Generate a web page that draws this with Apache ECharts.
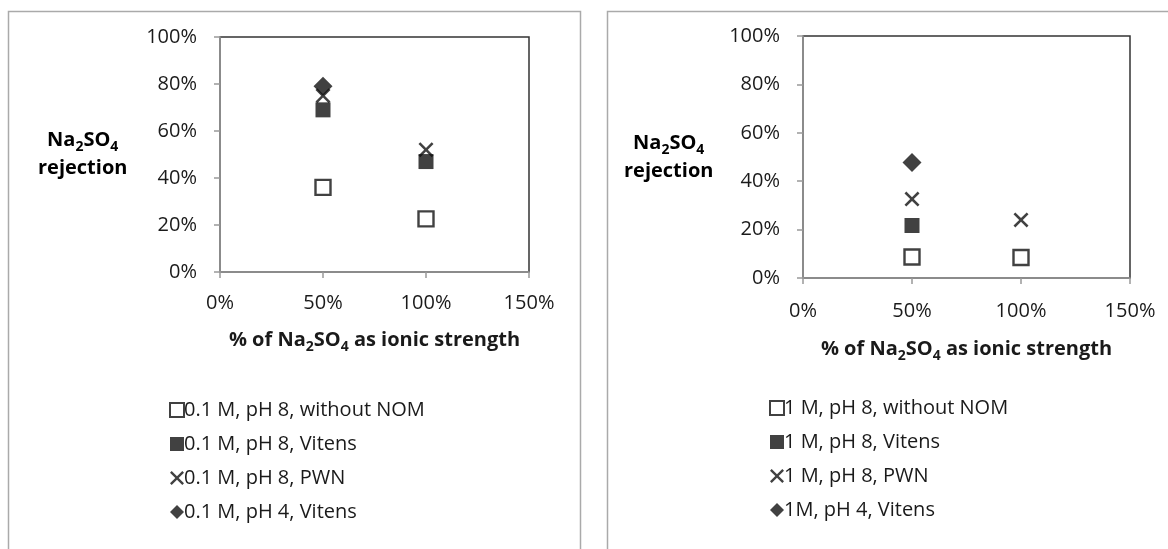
<!DOCTYPE html>
<html><head><meta charset="utf-8">
<script src="https://cdn.jsdelivr.net/npm/echarts@6/dist/echarts.min.js"></script>
<style>html,body{margin:0;padding:0;background:#fff}#c{width:1168px;height:549px}</style>
</head><body><div id="c"></div>
<script>
// ---- data ----
const xTicks = [0, 0.5, 1.0, 1.5];
const yTicks = [0, 0.2, 0.4, 0.6, 0.8, 1.0];
const leftNames = ['0.1 M, pH 8, without NOM', '0.1 M, pH 8, Vitens', '0.1 M, pH 8, PWN', '0.1 M, pH 4, Vitens'];
const rightNames = ['1 M, pH 8, without NOM', '1 M, pH 8, Vitens', '1 M, pH 8, PWN', '1M, pH 4, Vitens'];
const xValues = [0.5, 1.0];
const left_noNOM = [0.36, 0.226];
const left_vitens = [0.69, 0.47];
const left_pwn = [0.75, 0.52];
const left_pH4 = [0.79, null];
const right_noNOM = [0.087, 0.085];
const right_vitens = [0.217, null];
const right_pwn = [0.326, 0.24];
const right_pH4 = [0.477, null];

const FONT = 'Open Sans';
const TXT = '#1a1a1a';
const xPath = 'path://M0,1.2L1.2,0L5,3.8L8.8,0L10,1.2L6.2,5L10,8.8L8.8,10L5,6.2L1.2,10L0,8.8L3.8,5Z';
const styles = [
  {symbol: 'rect', symbolSize: 15, itemStyle: {color: '#fff', borderColor: '#111', borderWidth: 2.4}},
  {symbol: 'rect', symbolSize: 15, itemStyle: {color: '#111'}},
  {symbol: xPath, symbolSize: 15, itemStyle: {color: '#111'}},
  {symbol: 'diamond', symbolSize: 19, itemStyle: {color: '#111'}}
];
const leftData = [left_noNOM, left_vitens, left_pwn, left_pH4];
const rightData = [right_noNOM, right_vitens, right_pwn, right_pH4];

function pairs(vals) {
  return xValues.map((x, i) => vals[i] == null ? null : [x, vals[i]]).filter(p => p);
}
function pct(v) { return Math.round(v * 100) + '%'; }

const rich = {
  b: {fontFamily: FONT, fontWeight: 'bold', fontSize: 20, color: TXT},
  s: {fontFamily: FONT, fontWeight: 'bold', fontSize: 14, color: TXT, verticalAlign: 'bottom', padding: [14, 0, 0, 0]}
};
const xName = '{b|% of Na}{s|2}{b|SO}{s|4}{b| as ionic strength}';

function xAxis(gi, gap, margin) {
  return {
    type: 'value', gridIndex: gi, min: 0, max: 1.5, interval: 0.5,
    axisLine: {show: true, onZero: false, lineStyle: {color: '#999', width: 1.5}},
    axisTick: {show: true, length: 6, lineStyle: {color: '#999', width: 1.5}},
    splitLine: {show: false},
    axisLabel: {formatter: pct, fontFamily: FONT, fontSize: 20, color: TXT, margin: margin},
    name: xName, nameLocation: 'middle', nameGap: gap,
    nameTextStyle: {rich: rich}
  };
}
function yAxis(gi) {
  return {
    type: 'value', gridIndex: gi, min: 0, max: 1, interval: 0.2,
    axisLine: {show: true, lineStyle: {color: '#999', width: 1.5}},
    axisTick: {show: true, length: 6, lineStyle: {color: '#999', width: 1.5}},
    splitLine: {show: false},
    axisLabel: {formatter: pct, fontFamily: FONT, fontSize: 20, color: TXT, margin: 23}
  };
}

const series = [];
leftNames.forEach((n, i) => series.push(Object.assign({name: n, type: 'scatter', xAxisIndex: 0, yAxisIndex: 0, data: pairs(leftData[i])}, styles[i])));
rightNames.forEach((n, i) => series.push(Object.assign({name: n, type: 'scatter', xAxisIndex: 1, yAxisIndex: 1, data: pairs(rightData[i])}, styles[i])));

function legend(names, left, top) {
  return {
    data: names.map((n, i) => ({name: n, icon: styles[i].symbol})),
    orient: 'vertical', left: left, top: top, itemGap: 12, itemWidth: 14, itemHeight: 14,
    textStyle: {fontFamily: FONT, fontSize: 20, color: TXT, padding: [0, 0, 0, -5], lineHeight: 22},
    selectedMode: false
  };
}

const yTitle = '{b|Na}{s|2}{b|SO}{s|4}\n{b|rejection}';
const option = {
  animation: false,
  grid: [
    {left: 220, top: 37, width: 309, height: 235, show: true, borderColor: '#333', borderWidth: 1.5},
    {left: 803, top: 36, width: 327, height: 242, show: true, borderColor: '#333', borderWidth: 1.5}
  ],
  xAxis: [xAxis(0, 54, 21), xAxis(1, 57, 23)],
  yAxis: [yAxis(0), yAxis(1)],
  legend: [legend(leftNames, 164, 394), legend(rightNames, 764, 392)],
  series: series,
  graphic: [
    {type: 'rect', shape: {x: 8.5, y: 11.5, width: 572, height: 560}, style: {fill: 'none', stroke: '#aaa', lineWidth: 1.5}, silent: true, z: -1},
    {type: 'rect', shape: {x: 607.5, y: 11.5, width: 580, height: 560}, style: {fill: 'none', stroke: '#aaa', lineWidth: 1.5}, silent: true, z: -1},
    {type: 'text', left: 38, top: 126, style: {text: yTitle, rich: rich, textAlign: 'center', lineHeight: 28}},
    {type: 'text', left: 624, top: 129, style: {text: yTitle, rich: rich, textAlign: 'center', lineHeight: 28}}
  ]
};
const chart = echarts.init(document.getElementById('c'));
chart.setOption(option);
</script></body></html>
